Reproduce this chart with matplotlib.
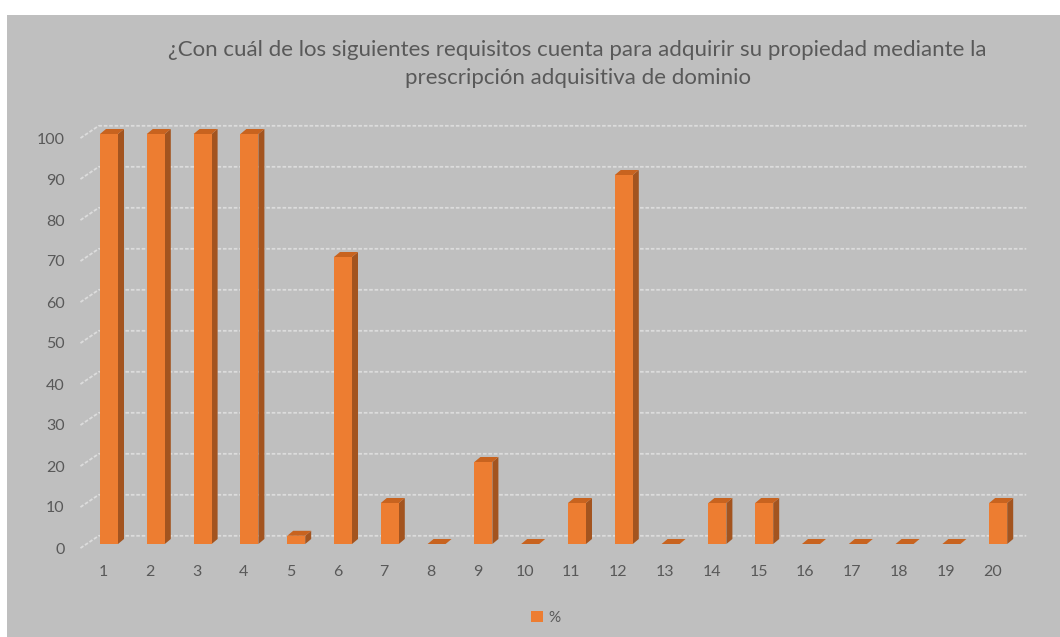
import matplotlib.pyplot as plt
import matplotlib.transforms as mtransforms
from matplotlib.patches import Polygon, Rectangle, Patch

# datos
categorias = list(range(1, 21))
porcentaje = [100, 100, 100, 100, 2, 70, 10, 0, 20, 0, 10, 90, 0, 10, 10, 0, 0, 0, 0, 10]
yticks = list(range(0, 101, 10))
titulo = ("¿Con cuál de los siguientes requisitos cuenta para adquirir su propiedad mediante la\n"
          "prescripción adquisitiva de dominio")

plt.rcParams['font.family'] = ['Lato', 'DejaVu Sans']
gris_txt = '#595959'
naranja = '#ED7D31'
lado = '#A3541F'
tapa = '#C8631F'
rejilla = '#DCDCDC'

fig = plt.figure(figsize=(10.6, 6.37), dpi=100)
fig.patch.set_facecolor('white')
fig.patches.append(Rectangle((7/1060, 0), 1 - 7/1060, 1 - 15/637, transform=fig.transFigure,
                             facecolor='#BFBFBF', edgecolor='none', zorder=-10))

ax = fig.add_axes([85.6/1060, (637-544)/637, 959.4/1060, 451/637])
ax.set_facecolor('none')
ax.set_xlim(0.5, 21)
ax.set_ylim(0, 110)

# profundidad 3D (en unidades de datos)
w = 0.385
dx, dy = 0.128, 1.22
back_dy = 2.0

# rejilla en pared de fondo con tramo inclinado
for v in yticks:
    ax.plot([0.39, 0.78, 20.6], [v - 1.0, v + back_dy, v + back_dy], color=rejilla,
            lw=1.3, ls=(0, (2, 1)), clip_on=False, zorder=1)

for x, v in zip(categorias, porcentaje):
    x0 = x - w / 2
    x1 = x + w / 2
    ax.add_patch(Polygon([(x1, 0), (x1 + dx, dy), (x1 + dx, v + dy), (x1, v)],
                         closed=True, facecolor=lado, edgecolor='none', zorder=3))
    ax.add_patch(Polygon([(x0, v), (x1, v), (x1 + dx, v + dy), (x0 + dx, v + dy)],
                         closed=True, facecolor=tapa, edgecolor='none', zorder=4))
    if v > 0:
        ax.bar(x, v, width=w, color=naranja, zorder=5)

for s in ax.spines.values():
    s.set_visible(False)
ax.tick_params(length=0, colors=gris_txt, labelsize=11.5)
ax.set_xticks([c - 0.12 for c in categorias])
ax.set_xticklabels([str(c) for c in categorias])
ax.tick_params(axis='x', pad=15)
ax.set_yticks(yticks)
ax.set_yticklabels([str(t) for t in yticks])
ax.tick_params(axis='y', pad=15)
off = mtransforms.ScaledTranslation(0, -4/100, fig.dpi_scale_trans)
for lbl in ax.get_yticklabels():
    lbl.set_transform(lbl.get_transform() + off)

fig.text(0.545, 1 - 63.5/637, titulo, ha='center', va='center', fontsize=16, color=gris_txt,
         linespacing=1.5)

fig.legend(handles=[Patch(facecolor=naranja, edgecolor='none', label='%')], loc='center',
           bbox_to_anchor=(0.515, 1 - 618/637), frameon=False, fontsize=11,
           handlelength=0.75, handleheight=0.75, handletextpad=0.4, labelcolor=gris_txt)

fig.savefig('out.png', dpi=100)
